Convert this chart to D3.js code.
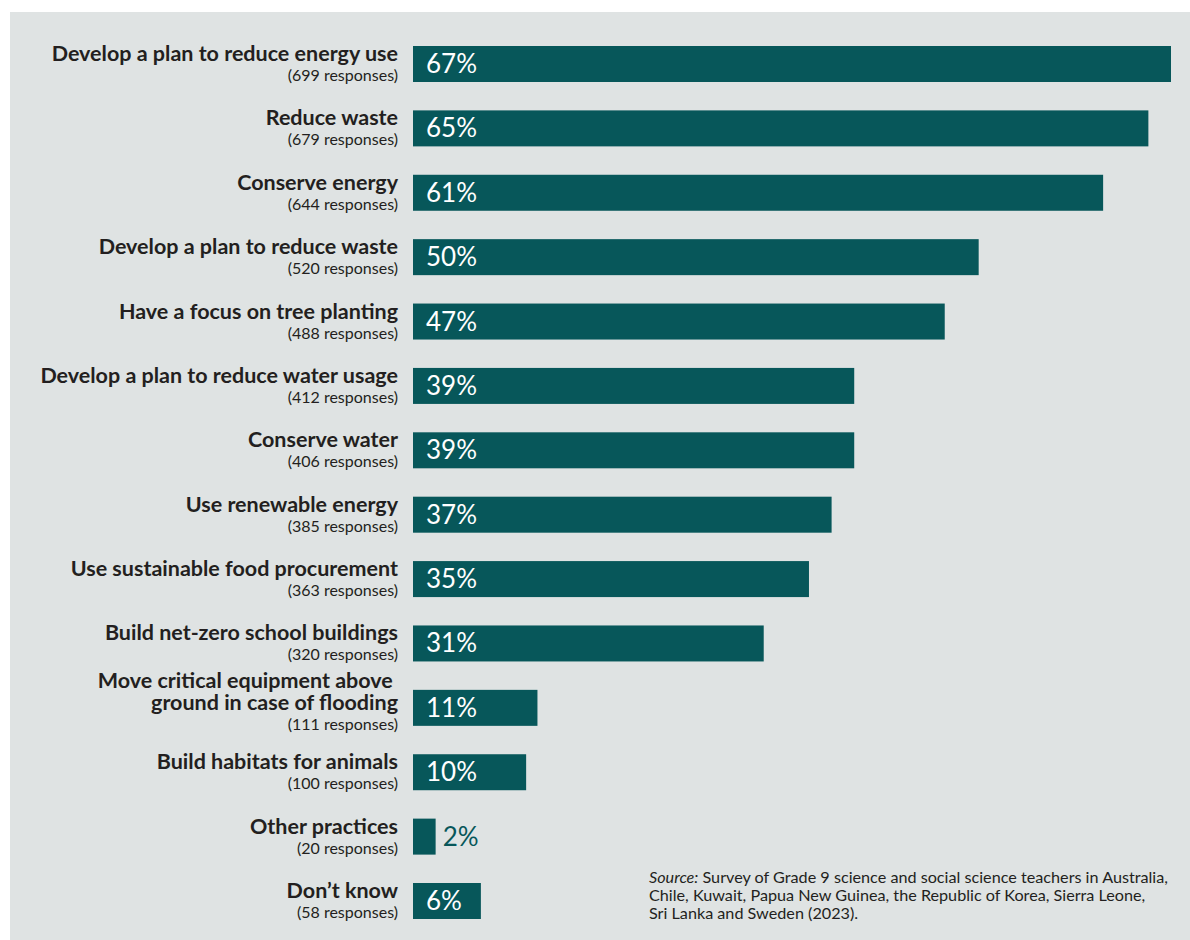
<!DOCTYPE html>
<html>
<head>
<meta charset="utf-8">
<script src="https://cdn.jsdelivr.net/npm/d3@7"></script>
<style>
    body { margin: 0; background: #ffffff; }
    svg { display: block; font-family: Lato, "Open Sans", sans-serif; }
</style>
</head>
<body>
<div id="chart"></div>
<script>
// categories (title lines) and values
const categories = [
    ["Develop a plan to reduce energy use"],
    ["Reduce waste"],
    ["Conserve energy"],
    ["Develop a plan to reduce waste"],
    ["Have a focus on tree planting"],
    ["Develop a plan to reduce water usage"],
    ["Conserve water"],
    ["Use renewable energy"],
    ["Use sustainable food procurement"],
    ["Build net-zero school buildings"],
    ["Move critical equipment above ", "ground in case of flooding"],
    ["Build habitats for animals"],
    ["Other practices"],
    ["Don\u2019t know"]
];
const percents = [67, 65, 61, 50, 47, 39, 39, 37, 35, 31, 11, 10, 2, 6];
const responses = [699, 679, 644, 520, 488, 412, 406, 385, 363, 320, 111, 100, 20, 58];
const sourceLines = [
    "Survey of Grade 9 science and social science teachers in Australia,",
    "Chile, Kuwait, Papua New Guinea, the Republic of Korea, Sierra Leone,",
    "Sri Lanka and Sweden (2023)."
];

const width = 1190;
const height = 940;
const barColor = "#07575a";
const textColor = "#231f20";

const rows = categories.map((lines, i) => ({
    key: i,
    lines: lines,
    pct: percents[i],
    n: responses[i]
}));

const svg = d3.select("#chart")
              .append("svg")
              .attr("width", width)
              .attr("height", height);

// grey panel
svg.append("rect")
   .attr("x", 10)
   .attr("y", 12)
   .attr("width", width - 10)
   .attr("height", height - 12)
   .style("fill", "#dfe3e3");

const x = d3.scaleLinear()
            .domain([0, 67])
            .range([413, 1171]);
const y = d3.scaleBand()
            .domain(rows.map((d) => d.key))
            .range([46, 919])
            .paddingInner(0.441)
            .paddingOuter(0);

const row = svg.append("g")
               .attr("class", "rows")
               .selectAll("g")
               .data(rows)
               .join((enter) => enter.append("g"))
               .attr("transform", (d) => "translate(0," + y(d.key) + ")");

row.append("rect")
   .attr("x", x(0))
   .attr("y", 0)
   .attr("width", (d) => x(d.pct) - x(0))
   .attr("height", y.bandwidth())
   .style("fill", barColor);

// value labels: inside the bar, outside if the bar is too short
row.append("text")
   .attr("x", (d) => d.pct < 4 ? x(d.pct) + 7 : x(0) + 13)
   .attr("y", 27)
   .style("font-size", "26px")
   .style("fill", (d) => d.pct < 4 ? barColor : "#ffffff")
   .text((d) => d.pct + "%");

// category labels, stacked up from the response count line
const mid = y.bandwidth() / 2;
const shift = (d) => (d.lines.length - 1) * 5;
row.append("text")
   .attr("x", 398)
   .attr("y", (d) => mid + 17 + shift(d))
   .attr("text-anchor", "end")
   .style("font-size", "16px")
   .style("fill", textColor)
   .text((d) => "(" + d.n + " responses)");

// one text per title, extra lines as tspans
const title = row.append("text")
                 .attr("class", "title")
                 .attr("text-anchor", "end")
                 .attr("y", (d) => mid - 3 + shift(d) - (d.lines.length - 1) * 22)
                 .style("font-size", "21.5px")
                 .style("font-weight", 700)
                 .style("fill", textColor)
                 .style("white-space", "pre");
title.selectAll("tspan")
     .data((d) => d.lines)
     .join((enter) => enter.append("tspan"))
     .attr("x", 398)
     .attr("dy", (t, i) => i == 0 ? 0 : 22)
     .text((t) => t);

// source note
const note = svg.append("text")
                .attr("x", 649)
                .attr("y", 883)
                .style("font-size", "16.2px")
                .style("fill", textColor);
sourceLines.forEach((line, i) => {
    if (i == 0) {
        note.append("tspan")
            .attr("x", 649)
            .style("font-style", "italic")
            .text("Source:");
        note.append("tspan")
            .text(" " + line);
    }
    else {
        note.append("tspan")
            .attr("x", 649)
            .attr("dy", 18)
            .text(line);
    }
});
</script>
</body>
</html>
